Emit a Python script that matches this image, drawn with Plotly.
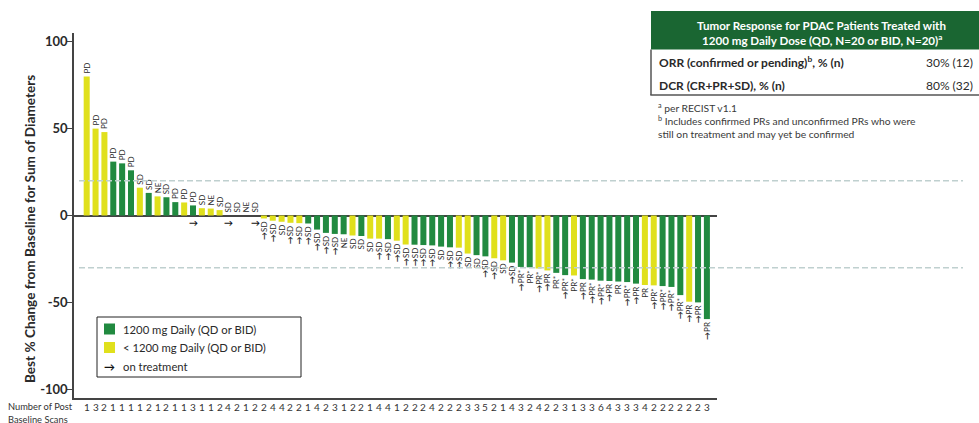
import plotly.graph_objects as go

# Best % change from baseline, one entry per patient (sorted waterfall order)
change = [80, 50, 48, 31, 30, 26, 16, 13, 11, 10.5, 7.7, 7.5, 5.8, 4.2, 4.0, 3.1, 0, 0, 0, 0,
          -1.7, -3, -3.6, -4.2, -4.4, -4.6, -8.1, -10, -10.6, -10.8, -11.5, -11.8, -13.3, -13.3, -13.6, -14.5, -16.7, -16.8, -17, -17.2,
          -17.9, -18.3, -18.5, -21.9, -22.8, -23.5, -24.6, -25.8, -27.1, -29.6, -29.8, -30.5, -31.6, -33, -34.3, -34.5, -36.6, -36.9, -37.5, -37.7,
          -38, -38.3, -39.2, -40, -40.2, -40.6, -41.1, -45.8, -49.6, -50, -59.6]

# Dose group: F = 1200 mg daily, L = < 1200 mg daily
dose = ["L", "L", "L", "F", "F", "F", "L", "F", "L", "F", "F", "L", "F", "L", "L", "L", "F", "F", "F", "F",
        "L", "L", "L", "L", "L", "F", "F", "F", "F", "F", "L", "F", "L", "L", "F", "L", "L", "F", "F", "F",
        "F", "F", "L", "L", "F", "F", "L", "L", "F", "F", "F", "L", "L", "F", "F", "L", "F", "F", "F", "F",
        "F", "F", "F", "L", "L", "F", "F", "F", "L", "F", "F"]

# Best overall response per RECIST v1.1
response = ["PD", "PD", "PD", "PD", "PD", "PD", "SD", "SD", "NE", "SD", "PD", "PD", "PD", "SD", "NE", "SD", "SD", "SD", "NE", "SD",
            "SD", "SD", "SD", "SD", "SD", "SD", "SD", "SD", "SD", "NE", "SD", "SD", "SD", "SD", "SD", "SD", "SD", "SD", "SD", "SD",
            "SD", "SD", "SD", "SD", "SD", "SD", "SD", "SD", "SD", "PR*", "PR*", "PR*", "PR", "PR*", "PR*", "PR*", "PR", "PR*", "PR*", "PR",
            "PR", "PR*", "PR", "PR", "PR*", "PR*", "PR*", "PR*", "PR", "PR", "PR"]

# 1 = still on treatment
on_treatment = [0, 0, 0, 0, 0, 0, 0, 0, 0, 0, 0, 0, 1, 0, 0, 0, 1, 0, 0, 1,
                1, 1, 0, 1, 1, 1, 1, 1, 1, 0, 0, 0, 0, 1, 1, 1, 1, 1, 1, 1,
                0, 1, 1, 0, 0, 1, 1, 0, 1, 1, 0, 1, 1, 0, 1, 0, 1, 1, 1, 1,
                0, 1, 1, 0, 1, 1, 1, 1, 1, 1, 1]

# Number of post-baseline scans
scans = [1, 3, 2, 1, 1, 1, 1, 2, 1, 2, 1, 1, 3, 1, 1, 2, 4, 2, 1, 2,
         2, 4, 4, 2, 2, 1, 4, 2, 3, 1, 2, 2, 1, 4, 4, 1, 2, 2, 2, 4,
         2, 2, 2, 3, 3, 5, 2, 1, 4, 3, 2, 4, 2, 2, 3, 1, 3, 3, 6, 4,
         3, 3, 3, 4, 2, 2, 2, 2, 2, 2, 3]

y_ticks = [100, 50, 0, -50, -100]
threshold_lines = [20, -30]

GREEN = "#218a40"
YELLOW = "#e0e01c"
HEADER_GREEN = "#1a6632"
FONT = "Lato, Carlito, 'Open Sans', sans-serif"
TEXT = "#2a2a2a"

W_FIG, H_FIG = 979, 423
L, R, T, B = 74, 717, 33, 398
PW, PH = R - L, B - T


def fx(p):
    return (p - L) / PW


def fy(p):
    return (B - p) / PH


patients = list(range(1, len(change) + 1))


def label(i):
    arrow = "<b>→</b>" if (on_treatment[i] and change[i] < 0) else ""
    return arrow + response[i]


fig = go.Figure()
for code, color, name in [("F", GREEN, "1200 mg Daily (QD or BID)"),
                          ("L", YELLOW, "< 1200 mg Daily (QD or BID)")]:
    idx = [i for i in range(len(change)) if dose[i] == code]
    fig.add_trace(go.Bar(
        x=[patients[i] for i in idx],
        y=[change[i] for i in idx],
        text=[label(i) for i in idx],
        name=name,
        marker=dict(color=color, line=dict(width=0)),
        textposition="outside",
        textangle=-90,
        constraintext="none",
        cliponaxis=False,
        textfont=dict(family=FONT, size=8, color=TEXT),
        width=0.68,
        showlegend=False,
    ))

annotations = []


def note(x, y, text, size, xanchor="center", yanchor="middle", xref="paper", color=TEXT,
         weight="normal", **kw):
    annotations.append(dict(x=x, y=y, xref=xref, yref=kw.pop("yref", "paper"), text=text,
                            showarrow=False, xanchor=xanchor, yanchor=yanchor,
                            font=dict(family=FONT, size=size, color=color, weight=weight), **kw))


# on-treatment arrows for non-shrinking tumors, just below the zero line
for i, v in enumerate(change):
    if on_treatment[i] and v >= 0:
        note(patients[i], 0, "→", 9, xref="x", yref="y", yshift=-7, color="#111", weight="bold")

# scan counts row
for i, n in enumerate(scans):
    note(patients[i], fy(406.5), str(n), 10, xref="x", color="#333")
note(fx(6), fy(406.5), "Number of Post", 9.3, xanchor="left", color="#333")
note(fx(6), fy(419.5), "Baseline Scans", 9.3, xanchor="left", color="#333")

# y-axis title
note(fx(30), fy(229), "Best % Change from Baseline for Sum of Diameters", 13.6,
     textangle=-90, weight="bold")

# legend
legend_rows = [(GREEN, "1200 mg Daily (QD or BID)", 329),
               (YELLOW, "< 1200 mg Daily (QD or BID)", 347.5),
               (None, "on treatment", 366)]
shapes = [dict(type="rect", xref="paper", yref="paper", x0=fx(97), x1=fx(301), y0=fy(377), y1=fy(317),
               line=dict(color="#222", width=1), fillcolor="white", layer="above")]
for color, txt, yc in legend_rows:
    if color:
        shapes.append(dict(type="rect", xref="paper", yref="paper", x0=fx(104), x1=fx(115),
                           y0=fy(yc + 5.5), y1=fy(yc - 5.5), line=dict(width=0), fillcolor=color,
                           layer="above"))
    else:
        note(fx(109.5), fy(yc), "→", 11, color="#111", weight="bold")
    note(fx(121), fy(yc), txt, 11.3, xanchor="left")

# response threshold lines (+20% PD, -30% PR)
for lv in threshold_lines:
    shapes.append(dict(type="line", xref="paper", yref="y", x0=fx(79), x1=fx(963), y0=lv, y1=lv,
                       line=dict(color="#bfd0cf", width=1.5, dash="6px,3px"), layer="above"))

# response summary table
shapes.append(dict(type="rect", xref="paper", yref="paper", x0=fx(651), x1=fx(980), y0=fy(49.5), y1=fy(11),
                   fillcolor=HEADER_GREEN, line=dict(width=0)))
shapes.append(dict(type="line", xref="paper", yref="paper", x0=fx(651), x1=fx(651), y0=fy(95), y1=fy(49.5),
                   line=dict(color="#555", width=1.5)))
shapes.append(dict(type="line", xref="paper", yref="paper", x0=fx(650.3), x1=fx(980), y0=fy(95), y1=fy(95),
                   line=dict(color="#555", width=1.5)))
note(fx(821.5), fy(25), "Tumor Response for PDAC Patients Treated with", 11.6,
     color="white", weight="bold")
note(fx(821.5), fy(39.5), "1200 mg Daily Dose (QD, N=20 or BID, N=20)<sup>a</sup>", 11.6,
     color="white", weight="bold")
table_rows = [("ORR (confirmed or pending)<sup>b</sup>, % (n)", "30% (12)", 62),
              ("DCR (CR+PR+SD), % (n)", "80% (32)", 86)]
for lab, val, yc in table_rows:
    note(fx(657), fy(yc), lab, 12, xanchor="left", weight="bold")
    note(fx(975), fy(yc), val, 12, xanchor="right")
footnotes = [("<sup>a</sup> per RECIST v1.1", 107),
             ("<sup>b</sup> Includes confirmed PRs and unconfirmed PRs who were", 120.5),
             ("still on treatment and may yet be confirmed", 134)]
for txt, yc in footnotes:
    note(fx(656), fy(yc), txt, 10.3, xanchor="left", color="#3a3a3a")

fig.update_layout(
    width=W_FIG, height=H_FIG,
    margin=dict(l=L, r=W_FIG - R, t=T, b=H_FIG - B, pad=0),
    paper_bgcolor="white", plot_bgcolor="white",
    barmode="overlay",
    showlegend=False,
    font=dict(family=FONT, color=TEXT),
    xaxis=dict(range=[-0.433, 72.14], showticklabels=False, ticks="", showgrid=False,
               zeroline=False, showline=True, linecolor="#444", linewidth=1.5, fixedrange=True),
    yaxis=dict(range=[-105, 105], tickvals=y_ticks, ticktext=[str(v) for v in y_ticks],
               ticks="outside", ticklen=5, tickwidth=1.3, tickcolor="#444",
               ticklabelstandoff=-3,
               showline=True, linecolor="#444", linewidth=1.5, showgrid=False,
               zeroline=True, zerolinecolor="#444", zerolinewidth=1.5,
               tickfont=dict(family=FONT, size=13, color=TEXT, weight="bold")),
    shapes=shapes,
    annotations=annotations,
)

fig.write_html("out.html")
